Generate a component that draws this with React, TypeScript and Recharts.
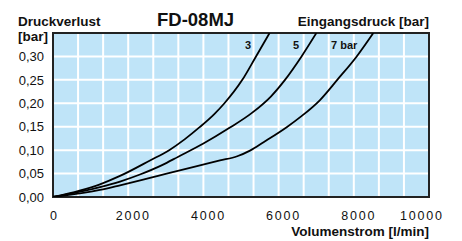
import React from "react";
import {
  LineChart, Line, XAxis, YAxis, CartesianGrid, ReferenceArea
} from "recharts";

// Volumenstrom [l/min] vs. Druckverlust [bar]
const flow3 = [0, 1250, 1782, 2580, 3090, 3500, 3900, 4290, 4548, 5035, 5399, 5760];
const loss3 = [0, 0.027, 0.045, 0.078, 0.1, 0.123, 0.149, 0.177, 0.199, 0.25, 0.3, 0.35];

const flow5 = [0, 1250, 1782, 2314, 2900, 3333, 4000, 4663, 5300, 5800, 6170, 6610, 7005];
const loss5 = [0, 0.021, 0.033, 0.048, 0.068, 0.086, 0.114, 0.146, 0.18, 0.215, 0.25, 0.3, 0.35];

const flow7 = [0, 1250, 1782, 2580, 3023, 3723, 4441, 4900, 5239, 5600, 6215, 6600, 7101, 7560, 8077, 8519];
const loss7 = [0, 0.015, 0.025, 0.041, 0.05, 0.064, 0.078, 0.087, 0.099, 0.117, 0.149, 0.172, 0.207, 0.25, 0.3, 0.35];

const xTicks = [0, 2000, 4000, 6000, 8000, 10000];
const yTicks = [0, 0.05, 0.1, 0.15, 0.2, 0.25, 0.3];
const gridDivisions = 15;

const toSeries = (xs: number[], ys: number[]) => xs.map((x, i) => ({ x, y: ys[i] }));

const FONT = "'Liberation Sans', Arial, Helvetica, sans-serif";
const INK = "#111";

const XTick = (props: any) => {
  const { x, y, payload } = props;
  const v = payload.value;
  const dx = v === 10000 ? -7 : v === 0 ? 1.5 : 5;
  return (
    <text x={x + dx} y={y} dy="0.71em" textAnchor="middle" fontSize={12.5}
      fontFamily={FONT} fill={INK} letterSpacing={1.8}>
      {v}
    </text>
  );
};

const YTick = (props: any) => {
  const { x, y, payload } = props;
  return (
    <text x={x} y={y} dy="0.36em" textAnchor="end" fontSize={13}
      fontFamily={FONT} fill={INK}>
      {payload.value.toFixed(2).replace(".", ",")}
    </text>
  );
};

const label = (text: string, left: number, top: number, size: number, extra: React.CSSProperties = {}) => (
  <div style={{
    position: "absolute", left, top, fontFamily: FONT, fontWeight: "bold",
    fontSize: size, color: INK, whiteSpace: "nowrap", lineHeight: 1, ...extra
  }}>{text}</div>
);

export default function App() {
  return (
    <div style={{ position: "absolute", left: 0, top: 0, width: 462, height: 241, background: "#fff" }}>
      <LineChart width={462} height={241} margin={{ top: 33, right: 33, bottom: 0, left: 0 }}>
        <CartesianGrid
          fill="#bfe4f8"
          stroke="#fff"
          strokeWidth={2}
          verticalCoordinatesGenerator={({ offset }: any) =>
            Array.from({ length: gridDivisions - 1 }, (_, i) => offset.left + ((i + 1) * offset.width) / gridDivisions)
          }
        />
        <XAxis type="number" dataKey="x" domain={[0, 10000]} ticks={xTicks}
          height={44} tickSize={0} tickMargin={14} axisLine={false} tickLine={false}
          tick={<XTick />} interval={0} allowDataOverflow />
        <YAxis type="number" domain={[0, 0.35]} ticks={yTicks} width={53}
          tickSize={0} tickMargin={9} axisLine={false} tickLine={false}
          tick={<YTick />} interval={0} allowDataOverflow />
        <Line data={toSeries(flow3, loss3)} dataKey="y" type="monotone" stroke="#000"
          strokeWidth={1.8} dot={false} isAnimationActive={false} />
        <Line data={toSeries(flow5, loss5)} dataKey="y" type="monotone" stroke="#000"
          strokeWidth={1.8} dot={false} isAnimationActive={false} />
        <Line data={toSeries(flow7, loss7)} dataKey="y" type="monotone" stroke="#000"
          strokeWidth={1.8} dot={false} isAnimationActive={false} />
        <ReferenceArea x1={0} x2={10000} y1={0} y2={0.35} fill="none" fillOpacity={0}
          stroke="#222" strokeWidth={2} ifOverflow="visible" />
      </LineChart>

      {label("Druckverlust", 18, 15, 13.5)}
      {label("[bar]", 18, 30, 13.5)}
      {label("FD-08MJ", 157, 11, 18.5)}
      {label("Eingangsdruck [bar]", 0, 15, 13.5, { left: "auto", right: 33 })}
      {label("Volumenstrom [l/min]", 0, 225, 13.5, { left: "auto", right: 33 })}
      {label("3", 245, 40, 11)}
      {label("5", 293, 40, 11)}
      {label("7 bar", 331, 40, 11)}
    </div>
  );
}
